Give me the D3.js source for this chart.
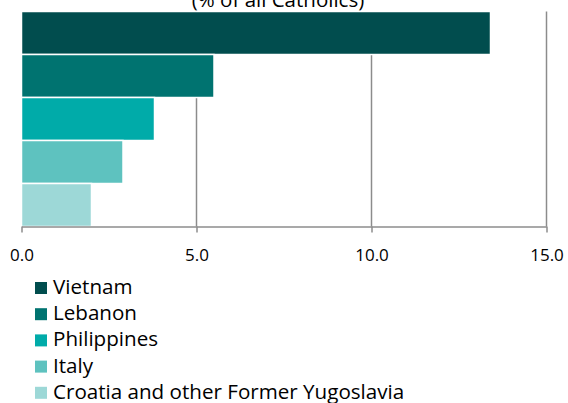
<!DOCTYPE html>
<html>
    <head>
        <style>
            body { margin: 0; background: #fff; }
            svg { display: block; font-family: "Open Sans", sans-serif; }
        </style>
    </head>
    <body>
        <svg id="chart" width="568" height="403"></svg>

        <script src="https://d3js.org/d3.v7.min.js"></script>
        <script>
            // data
            countries = ["Vietnam", "Lebanon", "Philippines", "Italy", "Croatia and other Former Yugoslavia"]
            shares = [13.4, 5.5, 3.8, 2.9, 2.0]
            colours = ["#014d4e", "#007370", "#00aba9", "#5ec2bf", "#9dd8d7"]
            ticks = [0, 5, 10, 15]
            title = "(% of all Catholics)"

            svg = d3.select("#chart")

            x = d3.scaleLinear().domain([0, 15]).range([21.5, 546.5])
            y = d3.scaleBand().domain(countries).range([11.5, 226.5]).padding(0)
            colour = d3.scaleOrdinal().domain(countries).range(colours)

            // title, cut off at the top like the original
            svg.append("text")
                .attr("x", 278).attr("y", 7)
                .attr("text-anchor", "middle")
                .attr("font-size", 20.5)
                .attr("fill", "#000")
                .text(title)

            // gridlines behind bars
            svg.append("g")
                .selectAll("line")
                .data(ticks.slice(1))
                .join("line")
                    .attr("x1", d => x(d)).attr("x2", d => x(d))
                    .attr("y1", 11.5).attr("y2", 226.5)
                    .attr("stroke", "#8c8c8c")
                    .attr("stroke-width", 1.5)

            svg.append("g")
                .selectAll("rect")
                .data(countries)
                .join("rect")
                    .attr("x", x(0))
                    .attr("y", d => y(d))
                    .attr("width", (d, i) => x(shares[i]) - x(0))
                    .attr("height", y.bandwidth())
                    .attr("fill", d => colour(d))
                    .attr("stroke", "#fff")
                    .attr("stroke-width", 1.5)

            // x axis
            const axis = svg.append("g")
                .attr("transform", "translate(0,226.5)")
                .call(d3.axisBottom(x).tickValues(ticks).tickFormat(d3.format(".1f")).tickSizeInner(6).tickSizeOuter(0).tickPadding(16))
            axis.select(".domain").attr("stroke", "#8c8c8c").attr("stroke-width", 1.5)
            axis.selectAll(".tick line").attr("stroke", "#8c8c8c").attr("stroke-width", 1.5)
            axis.selectAll(".tick text")
                .attr("font-family", "Open Sans, sans-serif")
                .attr("font-size", 17)
                .attr("fill", "#000")

            // legend
            const legend = svg.append("g")
                .selectAll("g")
                .data(countries)
                .join("g")
                    .attr("transform", (d, i) => `translate(35,${282 + i * 26.2})`)
            legend.append("rect")
                .attr("width", 12).attr("height", 12)
                .attr("fill", d => colour(d))
            legend.append("text")
                .attr("x", 18).attr("y", 12)
                .attr("font-size", 20.6)
                .attr("fill", "#000")
                .text(d => d)
        </script>
    </body>
</html>
